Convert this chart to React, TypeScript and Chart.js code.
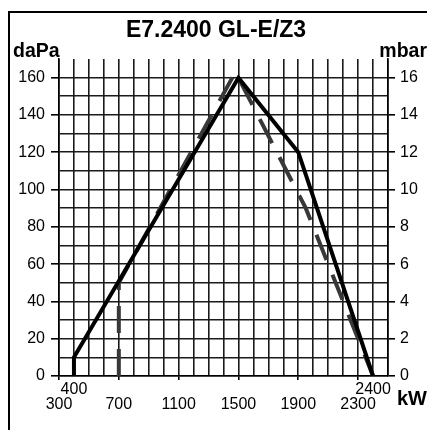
import React, { useEffect, useRef } from "react";
import { Chart, registerables } from "chart.js";
Chart.register(...registerables);

const FONT = "'Liberation Sans', Arial, Helvetica, sans-serif";

const titleText = "E7.2400 GL-E/Z3";
const leftUnit = "daPa";
const rightUnit = "mbar";
const xUnit = "kW";

// solid curve (kW, daPa)
const solidX = [400, 400, 1500, 1900, 2400];
const solidY = [0, 10, 160, 120, 0];
// dashed curve (kW, daPa)
const dashedX = [700, 700, 1480, 1950, 2400];
const dashedY = [0, 50, 163, 90, 0];

const xMin = 300;
const xMax = 2500;
const xStep = 100;
const xLowerLabels = [300, 700, 1100, 1500, 1900, 2300];
const xUpperLabels = [400, 2400];

const yMin = 0;
const yMax = 170;
const yStep = 10;
const yLeftLabels = [0, 20, 40, 60, 80, 100, 120, 140, 160];

const y2Max = 17;
const y2Step = 1;
const yRightLabels = [0, 2, 4, 6, 8, 10, 12, 14, 16];

const GRID = "#1a1a1a";
const CLEAR = "rgba(0,0,0,0)";

export default function App() {
  const ref = useRef<HTMLCanvasElement | null>(null);

  useEffect(() => {
    if (!ref.current) return;
    const chart = new Chart(ref.current, {
      type: "line",
      data: {
        datasets: [
          {
            label: "solid",
            data: solidX.map((x, i) => ({ x, y: solidY[i] })),
            borderColor: "#000",
            borderWidth: 4,
            pointRadius: 0,
            tension: 0,
            borderJoinStyle: "miter",
            fill: false,
            yAxisID: "y",
          },
          {
            label: "dashed",
            data: dashedX.map((x, i) => ({ x, y: dashedY[i] })),
            borderColor: "#383838",
            borderWidth: 4,
            borderDash: [27, 16],
            borderCapStyle: "butt",
            pointRadius: 0,
            tension: 0,
            fill: false,
            yAxisID: "y",
          },
        ],
      },
      options: {
        animation: false,
        responsive: false,
        maintainAspectRatio: false,
        layout: { padding: { top: 59, left: 0, right: 0, bottom: 0 } },
        plugins: {
          legend: { display: false },
          tooltip: { enabled: false },
          title: { display: false },
        },
        scales: {
          x: {
            type: "linear",
            position: "bottom",
            min: xMin,
            max: xMax,
            ticks: {
              stepSize: xStep,
              autoSkip: false,
              maxRotation: 0,
              minRotation: 0,
              padding: 2.5,
              color: "#000",
              font: { family: FONT, size: 16, lineHeight: 0.92 },
              callback: (v: any) => {
                const n = Number(v);
                if (xUpperLabels.includes(n)) return [String(n)];
                if (xLowerLabels.includes(n)) return ["", String(n)];
                return "";
              },
            },
            grid: {
              color: GRID,
              lineWidth: 1.6,
              tickLength: 4,
              tickColor: (ctx: any) =>
                ctx.tick && xLowerLabels.includes(ctx.tick.value) ? "#000" : CLEAR,
            },
            border: { display: true, color: "#000", width: 1.6 },
            afterFit: (s: any) => {
              s.height = 54;
            },
          },
          y: {
            type: "linear",
            position: "left",
            min: yMin,
            max: yMax,
            ticks: {
              stepSize: yStep,
              autoSkip: false,
              padding: 6,
              color: "#000",
              font: { family: FONT, size: 16 },
              callback: (v: any) => (yLeftLabels.includes(Number(v)) ? String(v) : ""),
            },
            grid: {
              color: (ctx: any) => (ctx.tick && ctx.tick.value === yMax ? CLEAR : GRID),
              lineWidth: 1.6,
              tickLength: 8,
              tickColor: (ctx: any) =>
                ctx.tick && yLeftLabels.includes(ctx.tick.value) ? "#000" : CLEAR,
            },
            border: { display: true, color: "#000", width: 1.6 },
            afterFit: (s: any) => {
              s.width = 59;
            },
          },
          y2: {
            type: "linear",
            position: "right",
            min: 0,
            max: y2Max,
            ticks: {
              stepSize: y2Step,
              autoSkip: false,
              padding: 5,
              color: "#000",
              font: { family: FONT, size: 16 },
              callback: (v: any) => (yRightLabels.includes(Number(v)) ? String(v) : ""),
            },
            grid: {
              drawOnChartArea: false,
              lineWidth: 1.6,
              tickLength: 7,
              tickColor: (ctx: any) =>
                ctx.tick && yRightLabels.includes(ctx.tick.value) ? "#000" : CLEAR,
            },
            border: { display: true, color: "#000", width: 1.6 },
            afterFit: (s: any) => {
              s.width = 39;
            },
          },
        },
      },
    } as any);
    return () => chart.destroy();
  }, []);

  const bold = { fontFamily: FONT, fontWeight: 700 as const, color: "#000", position: "absolute" as const, lineHeight: 1, whiteSpace: "nowrap" as const };

  return (
    <div style={{ position: "fixed", left: 0, top: 0, width: 427, height: 430, overflow: "hidden", background: "#fff" }}>
      <div
        style={{
          position: "absolute",
          left: 8,
          top: 11,
          width: 440,
          height: 440,
          borderLeft: "2px solid #000",
          borderTop: "2px solid #000",
          boxSizing: "border-box",
        }}
      />
      <canvas ref={ref} width={427} height={430} style={{ position: "absolute", left: 0, top: 0, width: 427, height: 430 }} />
      <div style={{ ...bold, fontSize: 23, left: 216, top: 18, transform: "translateX(-50%)" }}>{titleText}</div>
      <div style={{ ...bold, fontSize: 19.5, left: 13, top: 41 }}>{leftUnit}</div>
      <div style={{ ...bold, fontSize: 19.5, right: 0, top: 41 }}>{rightUnit}</div>
      <div style={{ ...bold, fontSize: 20, left: 397, top: 388 }}>{xUnit}</div>
    </div>
  );
}
